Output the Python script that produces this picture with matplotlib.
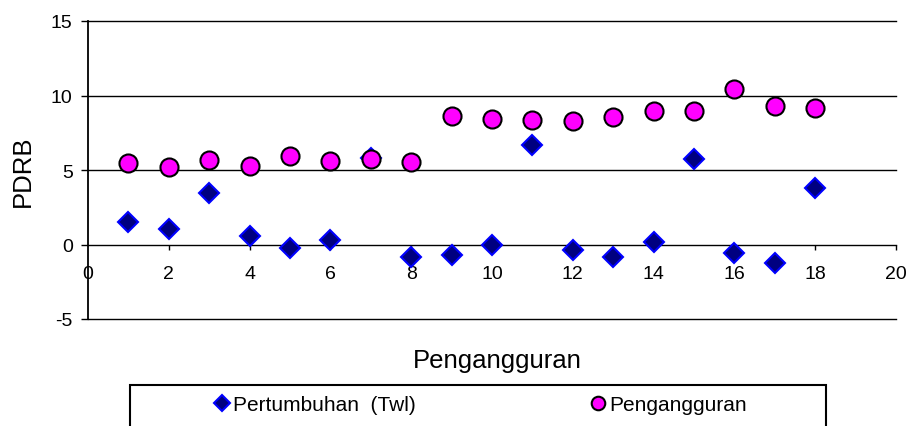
import matplotlib
matplotlib.use("Agg")
import matplotlib.pyplot as plt
from matplotlib.patches import Rectangle

plt.rcParams['font.family'] = ['Liberation Sans', 'DejaVu Sans']
plt.rcParams['axes.unicode_minus'] = False

# data
x_vals = list(range(1, 19))
pertumbuhan = [1.50, 1.05, 3.46, 0.60, -0.25, 0.33, 5.80, -0.85, -0.69,
               -0.05, 6.68, -0.38, -0.87, 0.18, 5.74, -0.54, -1.23, 3.77]
pengangguran = [5.47, 5.20, 5.65, 5.29, 5.96, 5.60, 5.74, 5.56, 8.64,
                8.44, 8.37, 8.30, 8.57, 8.95, 8.97, 10.45, 9.31, 9.13]
x_ticks = [2, 4, 6, 8, 10, 12, 14, 16, 18, 20]
y_ticks = [-5, 0, 5, 10, 15]

W, H = 909, 427
fig = plt.figure(figsize=(W / 100, H / 100), dpi=100)
ax = fig.add_axes([88 / W, 1 - 320 / H, (896 - 88) / W, (320 - 22) / H])

ax.plot(x_vals, pertumbuhan, linestyle='none', marker='D', markersize=10.5,
        markerfacecolor='#000080', markeredgecolor='#0000FF', markeredgewidth=1.5,
        label='Pertumbuhan  (Twl)', zorder=3, clip_on=False)
ax.plot(x_vals, pengangguran, linestyle='none', marker='o', markersize=13,
        markerfacecolor='#FF00FF', markeredgecolor='black', markeredgewidth=1.5,
        label='Pengangguran', zorder=4, clip_on=False)

ax.set_xlim(0, 20)
ax.set_ylim(-5, 15)
ax.set_xticks(x_ticks)
ax.set_yticks(y_ticks)
# horizontal grid lines, drawn unclipped so the ones at the edges stay full
for yv in y_ticks:
    if yv != 0:
        ax.axhline(yv, color='black', linewidth=1, zorder=1, clip_on=False)

ax.spines['top'].set_visible(False)
ax.spines['right'].set_visible(False)
ax.spines['bottom'].set_position(('data', 0))
ax.spines['bottom'].set_linewidth(1)
ax.spines['left'].set_linewidth(1.3)

ax.tick_params(axis='x', direction='out', length=3.6, width=1, pad=11, labelsize=14)
ax.tick_params(axis='y', direction='out', length=5, width=1, pad=6, labelsize=14)
# the "0" label sits under the y axis
ax.text(0, -1.95, '0', ha='center', va='center', fontsize=14)

fig.text(23 / W, 1 - 171 / H, 'PDRB', rotation=90, ha='center', va='center', fontsize=18.5)
fig.text(497 / W, 1 - 368 / H, 'Pengangguran', ha='center', va='baseline', fontsize=18.5)

# legend box, bottom edge runs off the picture
fig.patches.append(Rectangle((130 / W, -0.1), (826 - 130) / W, 0.1 + (1 - 386 / H),
                             transform=fig.transFigure, fill=False,
                             edgecolor='black', linewidth=1.5))
h, l = ax.get_legend_handles_labels()
fs = 15
em = fs * 100 / 72
hl = 0.7
for handle, label, cx in [(h[0], l[0], 222), (h[1], l[1], 598)]:
    leg = fig.legend([handle], [label], frameon=False, loc='center left',
                     bbox_to_anchor=((cx - hl * em / 2) / W, 1 - 406 / H),
                     fontsize=fs, handlelength=hl,
                     handletextpad=(11 - hl * em / 2) / em,
                     borderaxespad=0, borderpad=0, markerscale=0.75)

fig.savefig('out.png', dpi=100)
